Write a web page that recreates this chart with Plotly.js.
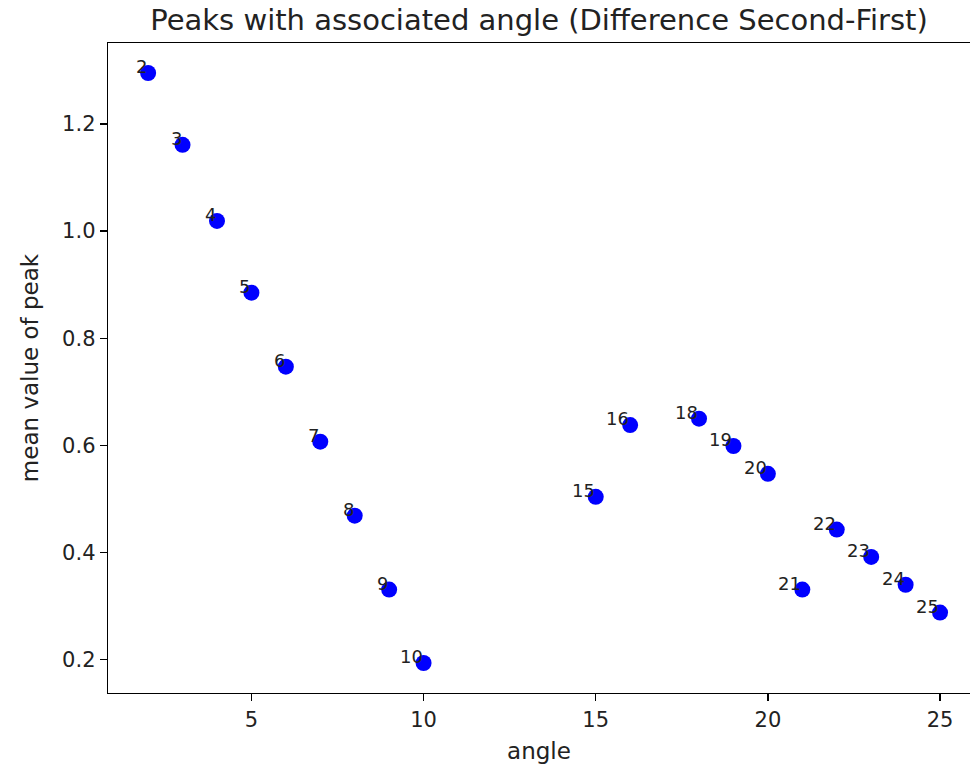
<!DOCTYPE html>
<html><head><meta charset="utf-8">
<script src="https://cdn.plot.ly/plotly-3.0.1.min.js"></script>
<style>html,body{margin:0;padding:0;background:#fff}#chart{width:970px;height:770px}</style>
</head><body><div id="chart"></div>
<script>
const angles = [2,3,4,5,6,7,8,9,10,15,16,18,19,20,21,22,23,24,25];
const peakMeans = [1.295,1.161,1.019,0.885,0.747,0.607,0.469,0.331,0.194,0.504,0.638,0.650,0.599,0.547,0.331,0.443,0.392,0.340,0.288];
const pointLabels = angles.map(String);
const xTicks = [5,10,15,20,25];
const yTicks = [0.2,0.4,0.6,0.8,1.0,1.2];
const yTickText = ['0.2','0.4','0.6','0.8','1.0','1.2'];

const font = {family:'DejaVu Sans, sans-serif', color:'#222'};
const trace = {x:angles, y:peakMeans, mode:'markers', type:'scatter',
  marker:{color:'#0000ff', size:16}, hoverinfo:'skip'};
const annotations = angles.map((a,i)=>({x:a, y:peakMeans[i], text:pointLabels[i], showarrow:false,
  xanchor:'right', yanchor:'bottom', xshift:1, yshift:-6, font:Object.assign({}, font, {size:18})}));
const layout = {
  width:970, height:770, margin:{l:108, r:0, t:43, b:77},
  paper_bgcolor:'#fff', plot_bgcolor:'#fff', showlegend:false,
  title:{text:'Peaks with associated angle (Difference Second-First)', x:0.5, xref:'paper', y:0.974, yref:'container', yanchor:'middle', font:Object.assign({}, font, {size:29})},
  xaxis:{range:[0.835,25.87], tickvals:xTicks, ticks:'outside', ticklen:7, tickcolor:'#000', tickwidth:1.3,
    showline:true, linecolor:'#000', linewidth:1.3, mirror:true, showgrid:false, zeroline:false,
    tickfont:Object.assign({}, font, {size:21}), title:{text:'angle', font:Object.assign({}, font, {size:23}), standoff:12}},
  yaxis:{range:[0.138,1.351], tickvals:yTicks, ticktext:yTickText, ticks:'outside', ticklen:7, tickcolor:'#000', tickwidth:1.3,
    showline:true, linecolor:'#000', linewidth:1.3, showgrid:false, zeroline:false,
    tickfont:Object.assign({}, font, {size:21}), title:{text:'mean value of peak', font:Object.assign({}, font, {size:23}), standoff:17}},
  annotations:annotations
};
Plotly.newPlot('chart', [trace], layout, {displayModeBar:false, staticPlot:true});
</script></body></html>
